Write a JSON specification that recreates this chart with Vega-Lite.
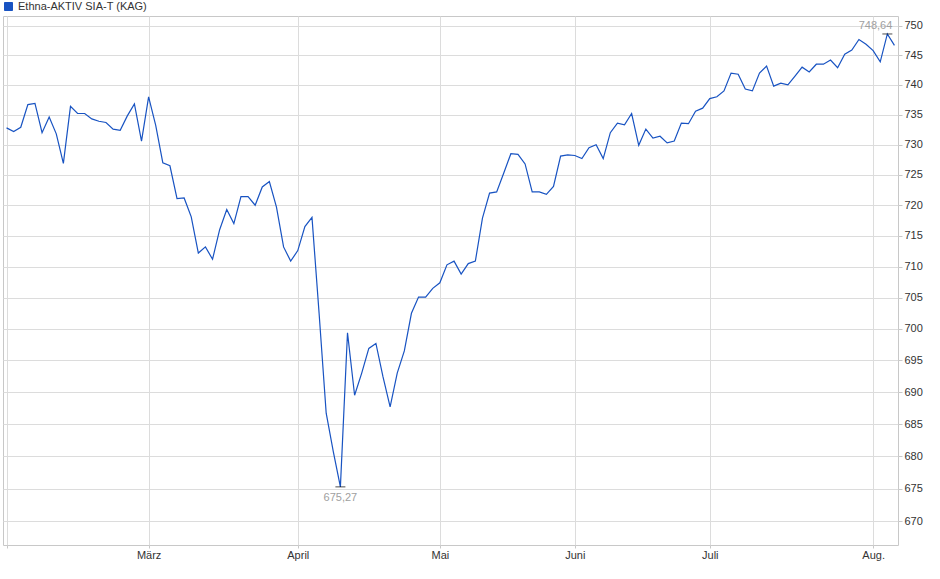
{
  "$schema": "https://vega.github.io/schema/vega-lite/v6.json",
  "width": 895,
  "height": 529,
  "autosize": {"type": "none"},
  "padding": {"left": 3, "top": 16, "right": 42, "bottom": 34},
  "background": "white",
  "config": {
    "font": "Liberation Sans",
    "view": {"stroke": "#c8c8c8", "strokeWidth": 1},
    "locale": {"number": {"decimal": ",", "thousands": ".", "grouping": [3], "currency": ["", " €"]}},
    "axis": {"gridColor": "#dcdcdc", "domain": false, "tickColor": "#c8c8c8", "labelColor": "#333333", "labelFontSize": 11, "labelFont": "Liberation Sans"}
  },
  "data": {"values": [
    {"d":"2025-02-03","v":732.8},{"d":"2025-02-04","v":732.2},{"d":"2025-02-05","v":732.9},{"d":"2025-02-06","v":736.7},{"d":"2025-02-07","v":736.9},
    {"d":"2025-02-10","v":732.0},{"d":"2025-02-11","v":734.6},{"d":"2025-02-12","v":731.8},{"d":"2025-02-13","v":726.9},{"d":"2025-02-14","v":736.4},
    {"d":"2025-02-17","v":735.2},{"d":"2025-02-18","v":735.2},{"d":"2025-02-19","v":734.3},{"d":"2025-02-20","v":733.9},{"d":"2025-02-21","v":733.7},
    {"d":"2025-02-24","v":732.6},{"d":"2025-02-25","v":732.4},{"d":"2025-02-26","v":734.8},{"d":"2025-02-27","v":736.8},{"d":"2025-02-28","v":730.6},
    {"d":"2025-03-03","v":738.0},{"d":"2025-03-04","v":733.2},{"d":"2025-03-05","v":727.0},{"d":"2025-03-06","v":726.5},{"d":"2025-03-07","v":721.1},
    {"d":"2025-03-10","v":721.2},{"d":"2025-03-11","v":718.1},{"d":"2025-03-12","v":712.2},{"d":"2025-03-13","v":713.2},{"d":"2025-03-14","v":711.2},
    {"d":"2025-03-17","v":716.0},{"d":"2025-03-18","v":719.3},{"d":"2025-03-19","v":717.0},{"d":"2025-03-20","v":721.4},{"d":"2025-03-21","v":721.4},
    {"d":"2025-03-24","v":720.0},{"d":"2025-03-25","v":723.0},{"d":"2025-03-26","v":723.9},{"d":"2025-03-27","v":719.7},{"d":"2025-03-28","v":713.2},
    {"d":"2025-03-31","v":710.9},
    {"d":"2025-04-01","v":712.6},{"d":"2025-04-02","v":716.5},{"d":"2025-04-03","v":718.0},{"d":"2025-04-04","v":702.5},
    {"d":"2025-04-07","v":686.7},{"d":"2025-04-08","v":680.7},{"d":"2025-04-09","v":675.27},{"d":"2025-04-10","v":699.4},{"d":"2025-04-11","v":689.5},
    {"d":"2025-04-14","v":693.0},{"d":"2025-04-15","v":696.9},{"d":"2025-04-16","v":697.7},{"d":"2025-04-17","v":692.4},
    {"d":"2025-04-22","v":687.7},{"d":"2025-04-23","v":693.0},{"d":"2025-04-24","v":696.5},{"d":"2025-04-25","v":702.5},
    {"d":"2025-04-28","v":705.1},{"d":"2025-04-29","v":705.1},{"d":"2025-04-30","v":706.5},
    {"d":"2025-05-02","v":707.4},{"d":"2025-05-05","v":710.3},{"d":"2025-05-06","v":710.9},{"d":"2025-05-07","v":708.8},{"d":"2025-05-08","v":710.5},
    {"d":"2025-05-12","v":710.9},{"d":"2025-05-13","v":717.9},{"d":"2025-05-14","v":722.0},{"d":"2025-05-15","v":722.2},{"d":"2025-05-16","v":725.3},
    {"d":"2025-05-19","v":728.5},{"d":"2025-05-20","v":728.4},{"d":"2025-05-21","v":726.8},{"d":"2025-05-22","v":722.2},{"d":"2025-05-23","v":722.2},
    {"d":"2025-05-26","v":721.8},{"d":"2025-05-27","v":723.1},{"d":"2025-05-28","v":728.1},{"d":"2025-05-30","v":728.3},
    {"d":"2025-06-02","v":728.2},{"d":"2025-06-03","v":727.7},{"d":"2025-06-04","v":729.5},{"d":"2025-06-05","v":730.0},{"d":"2025-06-06","v":727.7},
    {"d":"2025-06-10","v":732.0},{"d":"2025-06-11","v":733.6},{"d":"2025-06-12","v":733.3},{"d":"2025-06-13","v":735.2},
    {"d":"2025-06-16","v":729.9},{"d":"2025-06-17","v":732.6},{"d":"2025-06-18","v":731.1},{"d":"2025-06-19","v":731.4},{"d":"2025-06-20","v":730.3},
    {"d":"2025-06-24","v":730.6},{"d":"2025-06-25","v":733.6},{"d":"2025-06-26","v":733.5},{"d":"2025-06-27","v":735.6},{"d":"2025-06-30","v":736.1},
    {"d":"2025-07-01","v":737.7},{"d":"2025-07-02","v":738.0},{"d":"2025-07-03","v":739.0},{"d":"2025-07-04","v":742.0},
    {"d":"2025-07-07","v":741.8},{"d":"2025-07-08","v":739.3},{"d":"2025-07-09","v":739.0},{"d":"2025-07-10","v":742.0},{"d":"2025-07-11","v":743.2},
    {"d":"2025-07-14","v":739.8},{"d":"2025-07-15","v":740.3},{"d":"2025-07-16","v":740.0},{"d":"2025-07-17","v":741.5},{"d":"2025-07-18","v":743.0},
    {"d":"2025-07-21","v":742.2},{"d":"2025-07-22","v":743.5},{"d":"2025-07-23","v":743.5},{"d":"2025-07-24","v":744.2},{"d":"2025-07-25","v":742.9},
    {"d":"2025-07-28","v":745.2},{"d":"2025-07-29","v":745.9},{"d":"2025-07-30","v":747.7},{"d":"2025-07-31","v":746.9},
    {"d":"2025-08-01","v":745.8},{"d":"2025-08-04","v":743.9},{"d":"2025-08-05","v":748.64},{"d":"2025-08-06","v":746.7}
  ]},
  "layer": [
    {
      "mark": {"type": "line", "strokeWidth": 1.2},
      "encoding": {
        "x": {
          "field": "d", "type": "ordinal",
          "scale": {"type": "point", "padding": 0.5},
          "axis": {
            "title": null, "grid": true, "labelAngle": 0, "tickSize": 3, "labelPadding": 1,
            "values": ["2025-02-03","2025-03-03","2025-04-01","2025-05-02","2025-06-02","2025-07-01","2025-08-01"],
            "labelExpr": "datum.value == '2025-03-03' ? 'März' : datum.value == '2025-04-01' ? 'April' : datum.value == '2025-05-02' ? 'Mai' : datum.value == '2025-06-02' ? 'Juni' : datum.value == '2025-07-01' ? 'Juli' : datum.value == '2025-08-01' ? 'Aug.' : ''"
          }
        },
        "y": {
          "field": "v", "type": "quantitative",
          "scale": {"type": "log", "domain": [666.39, 751.71], "nice": false},
          "axis": {
            "orient": "right", "title": null, "grid": true, "tickSize": 4, "labelPadding": 2, "format": "d",
            "values": [670,675,680,685,690,695,700,705,710,715,720,725,730,735,740,745,750]
          }
        },
        "color": {
          "datum": "Ethna-AKTIV SIA-T (KAG)",
          "scale": {"range": ["#1853c2"]},
          "legend": {
            "orient": "none", "legendX": 0, "legendY": -15, "title": null, "padding": 0,
            "symbolType": "square", "symbolSize": 64, "labelFontSize": 11, "labelColor": "#333333", "labelOffset": 4,
            "labelFont": "Liberation Sans",
            "encode": {"symbols": {"update": {"fill": {"value": "#1853c2"}, "stroke": {"value": "#1a2f6e"}, "strokeWidth": {"value": 1}}}}
          }
        }
      }
    },
    {
      "transform": [{"joinaggregate": [{"op": "min", "field": "v", "as": "mn"}, {"op": "max", "field": "v", "as": "mx"}]}, {"filter": "datum.v == datum.mn || datum.v == datum.mx"}],
      "mark": {"type": "tick", "color": "black", "size": 10, "thickness": 1, "orient": "horizontal"},
      "encoding": {
        "x": {"field": "d", "type": "ordinal"},
        "y": {"field": "v", "type": "quantitative"}
      }
    },
    {
      "transform": [{"joinaggregate": [{"op": "min", "field": "v", "as": "mn"}]}, {"filter": "datum.v == datum.mn"}],
      "mark": {"type": "text", "color": "#a0a0a0", "fontSize": 11, "dy": 11, "baseline": "middle", "align": "center"},
      "encoding": {
        "x": {"field": "d", "type": "ordinal"},
        "y": {"field": "v", "type": "quantitative"},
        "text": {"field": "v", "type": "quantitative", "format": ".2f"}
      }
    },
    {
      "transform": [{"joinaggregate": [{"op": "max", "field": "v", "as": "mx"}]}, {"filter": "datum.v == datum.mx"}],
      "mark": {"type": "text", "color": "#a0a0a0", "fontSize": 11, "dy": -8, "dx": 5, "baseline": "middle", "align": "right"},
      "encoding": {
        "x": {"field": "d", "type": "ordinal"},
        "y": {"field": "v", "type": "quantitative"},
        "text": {"field": "v", "type": "quantitative", "format": ".2f"}
      }
    }
  ]
}
